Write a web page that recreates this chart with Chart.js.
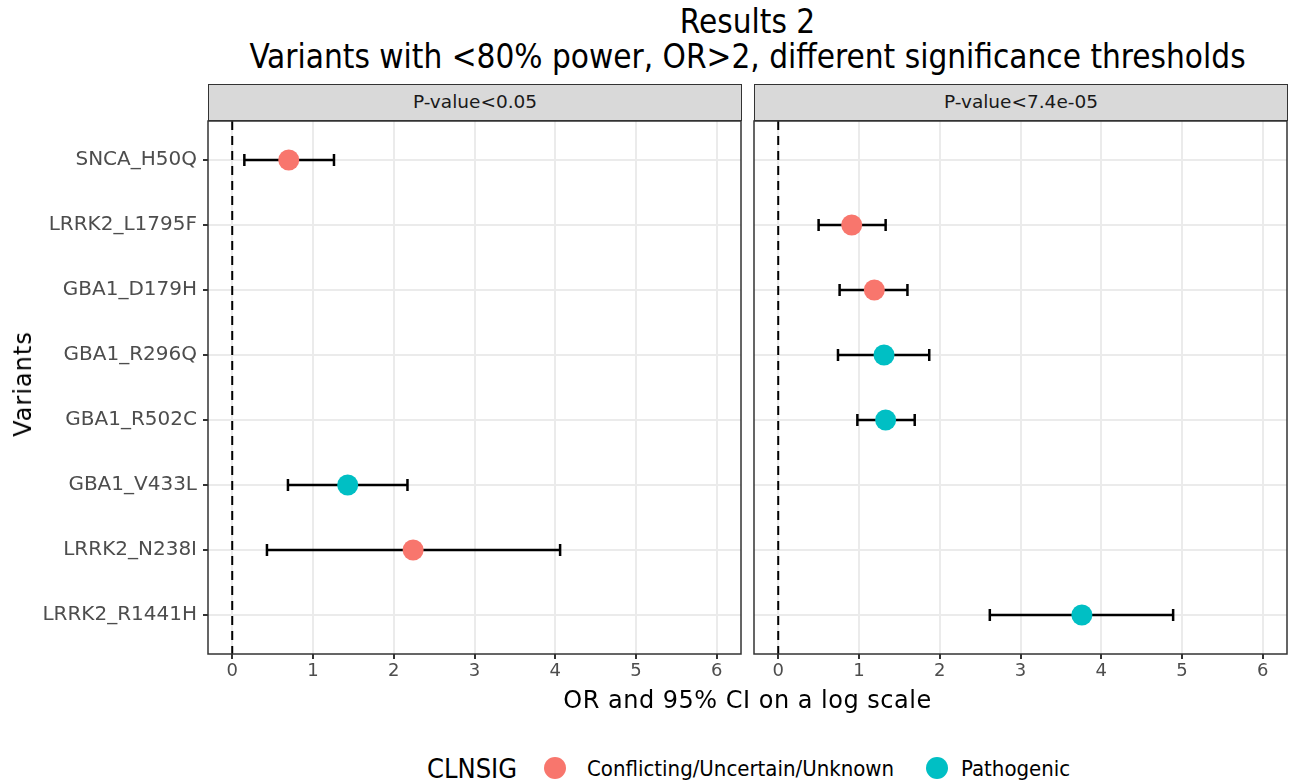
<!DOCTYPE html>
<html>
<head>
<meta charset="utf-8">
<script src="https://cdn.jsdelivr.net/npm/chart.js@4"></script>
<style>
  html, body { margin: 0; padding: 0; background: #fff; overflow: hidden; }
  body { width: 1289px; height: 781px; position: relative; font-family: "DejaVu Sans", sans-serif; }
  .cond { font-family: "DejaVu Sans Condensed", "DejaVu Sans", sans-serif; font-stretch: condensed; }
  .abs { position: absolute; white-space: nowrap; }
  #title { left: 208px; width: 1079px; top: 4px; text-align: center; font-size: 33px; line-height: 35px; color: #000; }
  .strip { position: absolute; top: 84px; height: 37px; background: #D9D9D9; border: 1.5px solid #333; box-sizing: border-box;
           text-align: center; line-height: 33px; font-size: 18.5px; color: #1A1A1A; }
  .wrap { position: absolute; }
  #xtitle { left: 208px; width: 1079px; top: 686px; text-align: center; font-size: 24px; letter-spacing: 0.5px; color: #000; }
  #ytitle { left: 23px; top: 384px; font-size: 24px; letter-spacing: 1px; transform: translate(-50%, -50%) rotate(-90deg); color: #000; }
  .leg { position: absolute; top: 768px; transform: translateY(-50%); white-space: nowrap; color: #000; }
  .dot { width: 22px; height: 22px; border-radius: 50%; }
</style>
</head>
<body>
<div id="title" class="abs cond">Results 2<br>Variants with &lt;80% power, OR&gt;2, different significance thresholds</div>
<div class="strip" style="left:208px; width:534px;">P-value&lt;0.05</div>
<div class="strip" style="left:754px; width:534px;">P-value&lt;7.4e-05</div>

<div class="wrap" style="left:0; top:111px; width:750px; height:600px;"><canvas id="left"></canvas></div>
<div class="wrap" style="left:746px; top:111px; width:543px; height:600px;"><canvas id="right"></canvas></div>

<div id="xtitle" class="abs">OR and 95% CI on a log scale</div>
<div id="ytitle" class="abs">Variants</div>
<div class="leg cond" style="left:427px; font-size:27px;">CLNSIG</div>
<div class="leg dot" style="left:544px; background:#F8766D;"></div>
<div class="leg cond" style="left:587px; font-size:22px;">Conflicting/Uncertain/Unknown</div>
<div class="leg dot" style="left:926px; background:#00BFC4;"></div>
<div class="leg cond" style="left:961px; font-size:22px;">Pathogenic</div>

<script>
// variants, top to bottom
const variants = ["SNCA_H50Q", "LRRK2_L1795F", "GBA1_D179H", "GBA1_R296Q", "GBA1_R502C", "GBA1_V433L", "LRRK2_N238I", "LRRK2_R1441H"];
const clnsig = ["Conflicting", "Conflicting", "Conflicting", "Pathogenic", "Pathogenic", "Pathogenic", "Conflicting", "Pathogenic"];
const xTicks = [0, 1, 2, 3, 4, 5, 6];

// panel P-value<0.05
const or05 = [0.70, null, null, null, null, 1.43, 2.24, null];
const lo05 = [0.15, null, null, null, null, 0.69, 0.43, null];
const hi05 = [1.26, null, null, null, null, 2.17, 4.06, null];

// panel P-value<7.4e-05
const orStrict = [null, 0.91, 1.19, 1.31, 1.33, null, null, 3.76];
const loStrict = [null, 0.50, 0.76, 0.74, 0.98, null, null, 2.62];
const hiStrict = [null, 1.33, 1.60, 1.87, 1.69, null, null, 4.89];

const colors = { Conflicting: "#F8766D", Pathogenic: "#00BFC4" };

// dashed line at 0, error bars under the points, panel border
const forestPlugin = {
  id: "forest",
  beforeDatasetsDraw(chart) {
    const { ctx, chartArea, scales: { x, y } } = chart;
    const opts = chart.options.plugins.forest;
    ctx.save();
    ctx.beginPath();
    ctx.rect(chartArea.left, chartArea.top, chartArea.width, chartArea.height);
    ctx.clip();
    // vline
    ctx.strokeStyle = "#000";
    ctx.lineWidth = 2;
    ctx.setLineDash([9, 6]);
    const x0 = x.getPixelForValue(0);
    ctx.beginPath();
    ctx.moveTo(x0, chartArea.top);
    ctx.lineTo(x0, chartArea.bottom);
    ctx.stroke();
    ctx.setLineDash([]);
    // error bars
    ctx.lineWidth = 2.5;
    opts.lo.forEach((lo, i) => {
      const hi = opts.hi[i];
      if (lo === null || hi === null) return;
      const py = y.getPixelForValue(i + 1);
      const a = x.getPixelForValue(lo), b = x.getPixelForValue(hi);
      ctx.beginPath();
      ctx.moveTo(a, py); ctx.lineTo(b, py);
      ctx.moveTo(a, py - 6); ctx.lineTo(a, py + 6);
      ctx.moveTo(b, py - 6); ctx.lineTo(b, py + 6);
      ctx.stroke();
    });
    ctx.restore();
  },
  afterDraw(chart) {
    const { ctx, chartArea } = chart;
    ctx.save();
    ctx.strokeStyle = "#333333";
    ctx.lineWidth = 1.5;
    ctx.strokeRect(chartArea.left, chartArea.top, chartArea.width, chartArea.height);
    ctx.restore();
  }
};

function noPad(s) {
  s.paddingTop = 0; s.paddingBottom = 0; s.paddingLeft = 0; s.paddingRight = 0;
}

function makePanel(canvasId, ors, los, his, showY) {
  const pts = [];
  const bg = [];
  ors.forEach((v, i) => {
    if (v === null) return;
    pts.push({ x: v, y: i + 1 });
    bg.push(colors[clnsig[i]]);
  });
  return new Chart(document.getElementById(canvasId), {
    type: "scatter",
    data: {
      datasets: [{
        data: pts,
        backgroundColor: bg,
        borderWidth: 0,
        pointRadius: 10.5,
        pointHoverRadius: 10.5
      }]
    },
    options: {
      responsive: true,
      maintainAspectRatio: false,
      animation: false,
      events: [],
      layout: { autoPadding: false, padding: { top: 10, right: showY ? 9 : 2, left: showY ? 0 : 8, bottom: 0 } },
      scales: {
        x: {
          type: "linear",
          min: -0.3,
          max: 6.3,
          afterBuildTicks: (s) => { s.ticks = xTicks.map(v => ({ value: v })); },
          afterFit: (s) => { s.height = 57; noPad(s); },
          ticks: { color: "#4D4D4D", font: { family: "DejaVu Sans", size: 18 }, padding: 2 },
          grid: { color: "#EBEBEB", lineWidth: 2, tickColor: "#333333", tickLength: 5, tickWidth: 2 },
          border: { display: false }
        },
        y: {
          type: "linear",
          min: 0.4,
          max: 8.6,
          reverse: true,
          afterBuildTicks: (s) => { s.ticks = variants.map((_, i) => ({ value: i + 1 })); },
          afterFit: (s) => { s.width = showY ? 208 : 0; noPad(s); },
          ticks: {
            display: showY,
            color: "#4D4D4D",
            font: { family: "DejaVu Sans", size: 20 },
            padding: 6,
            callback: (v) => variants[v - 1]
          },
          grid: { color: "#EBEBEB", lineWidth: 2, drawTicks: showY, tickColor: "#333333", tickLength: 5, tickWidth: 2 },
          border: { display: false }
        }
      },
      plugins: {
        legend: { display: false },
        tooltip: { enabled: false },
        forest: { lo: los, hi: his }
      }
    },
    plugins: [forestPlugin]
  });
}

makePanel("left", or05, lo05, hi05, true);
makePanel("right", orStrict, loStrict, hiStrict, false);
</script>
</body>
</html>
